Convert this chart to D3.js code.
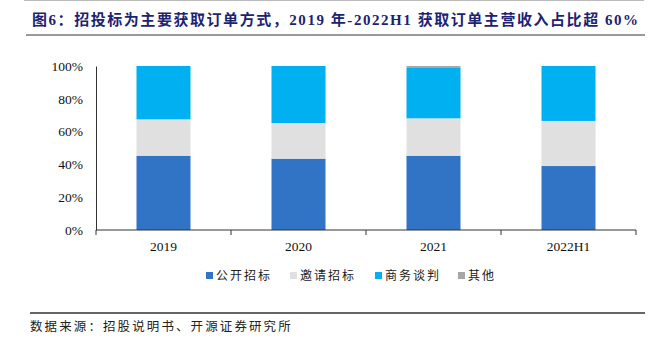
<!DOCTYPE html>
<html>
<head>
<meta charset="utf-8">
<script src="https://cdn.jsdelivr.net/npm/d3@7"></script>
<style>
  body { margin: 0; background: #fff; }
  svg { display: block; }
</style>
</head>
<body>
<svg width="655" height="342"></svg>
<script>
const categories = ['2019', '2020', '2021', '2022H1'];
const seriesNames = ['公开招标', '邀请招标', '商务谈判', '其他'];
const openBid = [45.3, 43.5, 45.3, 39.0];
const inviteBid = [22.2, 21.7, 22.8, 27.5];
const negotiation = [32.5, 34.8, 31.1, 33.5];
const other = [0, 0, 0.8, 0];
const yTicks = [0, 20, 40, 60, 80, 100];
const colors = ['#3173C5', '#E0E0E0', '#00B0F0', '#A6A6A6'];

const svg = d3.select('svg');
const serif = '"Liberation Serif", "Times New Roman", serif';
const cjk = '"Liberation Serif", "Noto Sans CJK SC", sans-serif';

// title + rules
svg.append('line')
  .attr('x1', 24).attr('x2', 644).attr('y1', 0.5).attr('y2', 0.5)
  .attr('stroke', '#bbb').attr('stroke-width', 1);
svg.append('text')
  .text('图6：招投标为主要获取订单方式，2019 年-2022H1 获取订单主营收入占比超 60%')
  .attr('x', 32).attr('y', 25)
  .attr('font-family', cjk).attr('font-weight', 'bold').attr('font-size', 15)
  .attr('letter-spacing', 1.55)
  .attr('fill', '#1C2370');
svg.append('line')
  .attr('x1', 26).attr('x2', 645).attr('y1', 35).attr('y2', 35)
  .attr('stroke', '#999').attr('stroke-width', 2);

const margin = { top: 66, left: 96, right: 19, bottom: 112 };
const graphWidth = 655 - margin.left - margin.right;
const graphHeight = 342 - margin.top - margin.bottom;

const graph = svg.append('g')
  .attr('transform', `translate(${margin.left}, ${margin.top})`);

const x = d3.scaleBand().domain(categories).range([0, graphWidth])
  .paddingInner(0.6).paddingOuter(0.3);
const y = d3.scaleLinear().domain([0, 100]).range([graphHeight, 0]);

const rows = categories.map((c, i) => ({
  cat: c,
  [seriesNames[0]]: openBid[i],
  [seriesNames[1]]: inviteBid[i],
  [seriesNames[2]]: negotiation[i],
  [seriesNames[3]]: other[i]
}));
const stacked = d3.stack().keys(seriesNames)(rows);

graph.selectAll('g.layer')
  .data(stacked)
  .enter()
  .append('g')
  .attr('class', 'layer')
  .attr('fill', (d, i) => colors[i])
  .selectAll('rect')
  .data(d => d)
  .enter()
  .append('rect')
  .attr('x', d => x(d.data.cat))
  .attr('width', x.bandwidth())
  .attr('y', d => y(d[1]))
  .attr('height', d => y(d[0]) - y(d[1]));

// y axis
const yAxis = d3.axisLeft(y).tickValues(yTicks).tickFormat(d => d + '%').tickSize(0).tickPadding(13);
const gy = graph.append('g').call(yAxis);
gy.select('.domain').attr('stroke', '#333');
gy.selectAll('text').attr('font-family', serif).attr('font-size', 13.5).attr('fill', '#111');

// x axis with ticks at band boundaries
const gx = graph.append('g').attr('transform', `translate(0, ${graphHeight})`);
gx.append('line').attr('x1', 0).attr('x2', graphWidth).attr('stroke', '#333');
const bounds = categories.map(c => x(c) - x.step() * x.paddingOuter()).concat([graphWidth]);
gx.selectAll('line.tick')
  .data(bounds)
  .enter()
  .append('line')
  .attr('class', 'tick')
  .attr('x1', d => d).attr('x2', d => d)
  .attr('y1', 0).attr('y2', 5)
  .attr('stroke', '#333');
gx.selectAll('text')
  .data(categories)
  .enter()
  .append('text')
  .text(d => d)
  .attr('x', d => x(d) + x.bandwidth() / 2)
  .attr('y', 21)
  .attr('text-anchor', 'middle')
  .attr('font-family', serif).attr('font-size', 13.5).attr('fill', '#111');

// legend
const legendX = [206, 290, 375, 458];
const legend = svg.append('g');
seriesNames.forEach((name, i) => {
  legend.append('rect')
    .attr('x', legendX[i]).attr('y', 272)
    .attr('width', 7).attr('height', 7)
    .attr('fill', colors[i]);
  legend.append('text')
    .text(name)
    .attr('x', legendX[i] + 10).attr('y', 280)
    .attr('font-family', '"Noto Sans CJK SC", sans-serif').attr('font-size', 12)
    .attr('letter-spacing', 2)
    .attr('fill', '#222');
});

// source
svg.append('line')
  .attr('x1', 30).attr('x2', 645).attr('y1', 313).attr('y2', 313)
  .attr('stroke', '#333').attr('stroke-width', 1.5);
svg.append('text')
  .text('数据来源：招股说明书、开源证券研究所')
  .attr('x', 30).attr('y', 331)
  .attr('font-family', '"Noto Sans CJK SC", sans-serif').attr('font-size', 12.5)
  .attr('letter-spacing', 2.1)
  .attr('fill', '#222');
</script>
</body>
</html>
